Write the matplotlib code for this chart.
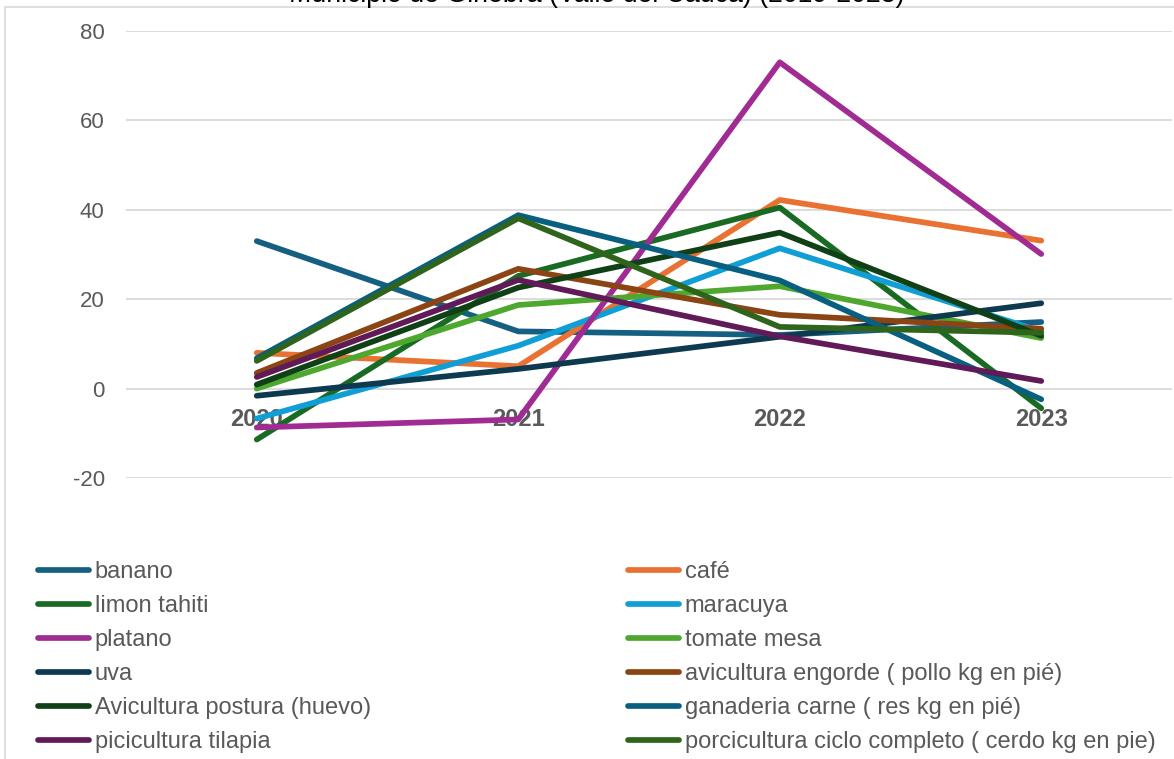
import matplotlib
matplotlib.use("Agg")
import matplotlib.pyplot as plt
from matplotlib.patches import Rectangle

plt.rcParams['font.family'] = ['Liberation Sans', 'DejaVu Sans']

years = ["2020", "2021", "2022", "2023"]
series_names = [
    "banano", "café", "limon tahiti", "maracuya", "platano", "tomate mesa",
    "uva", "avicultura engorde ( pollo kg en pié)", "Avicultura postura (huevo)",
    "ganaderia carne ( res kg en pié)", "picicultura tilapia",
    "porcicultura ciclo completo ( cerdo kg en pie)",
]
banano = [33.0, 12.8, 12.0, 14.9]
cafe = [8.0, 5.0, 42.2, 33.1]
limon_tahiti = [-11.4, 25.2, 40.5, -4.4]
maracuya = [-6.7, 9.6, 31.4, 12.8]
platano = [-8.7, -6.9, 73.0, 30.1]
tomate_mesa = [0.0, 18.7, 22.9, 11.3]
uva = [-1.6, 4.4, 11.6, 19.1]
avicultura_engorde = [3.5, 26.8, 16.5, 13.4]
avicultura_postura = [0.9, 22.6, 34.9, 11.8]
ganaderia_carne = [6.8, 38.8, 24.2, -2.4]
picicultura_tilapia = [2.6, 24.3, 11.7, 1.7]
porcicultura = [6.2, 38.1, 13.8, 12.5]

values = [banano, cafe, limon_tahiti, maracuya, platano, tomate_mesa, uva,
          avicultura_engorde, avicultura_postura, ganaderia_carne,
          picicultura_tilapia, porcicultura]
colors = ["#156082", "#E97132", "#196B24", "#0F9ED5", "#A02B93", "#4EA72E",
          "#0D3A4E", "#8B4413", "#0F4016", "#095F80", "#601A58", "#2F641C"]

W, H = 1174, 759
fig = plt.figure(figsize=(W / 100, H / 100), dpi=100)
fig.patch.set_facecolor("white")

# chart border
fig.patches.append(Rectangle((5 / W, -0.1), 1.2, 1 - 7 / H + 0.1,
                             transform=fig.transFigure, fill=False,
                             edgecolor="#D9D9D9", lw=1.2))

ax = fig.add_axes([126 / W, 1 - 478 / H, (1172 - 126) / W, (478 - 31) / H])
ax.set_facecolor("none")
x = list(range(len(years)))
handles = []
for name, vals, c in zip(series_names, values, colors):
    ln, = ax.plot(x, vals, color=c, lw=4.1, solid_capstyle="round",
                  solid_joinstyle="round", label=name)
    handles.append(ln)

ax.set_xlim(-0.5, 3.5)
ax.set_ylim(-20, 80)
ax.set_yticks([-20, 0, 20, 40, 60, 80])
ax.set_yticklabels(["-20", "0", "20", "40", "60", "80"])
ax.grid(axis="y", color="#D9D9D9", lw=1.3)
ax.set_axisbelow(True)
for s in ax.spines.values():
    s.set_visible(False)
ax.spines["bottom"].set_position(("data", 0))
ax.set_xticks(x)
ax.set_xticklabels(years, fontweight="bold")
ax.tick_params(axis="x", length=0, pad=14.2, labelsize=17, labelcolor="#595959")
ax.tick_params(axis="y", length=0, pad=15.3, labelsize=16, labelcolor="#595959")

fig.text(597 / W, 1 - 1.5 / H, "Municipio de Ginebra (Valle del Cauca) (2019-2023)",
         ha="center", va="baseline", fontsize=19.3, color="#000000")

leg_kw = dict(frameon=False, fontsize=17, labelcolor="#595959",
              handlelength=2.16, handletextpad=0.25, labelspacing=0.51,
              borderpad=0, borderaxespad=0, loc="upper left")
col1 = [handles[i] for i in range(0, 12, 2)]
col2 = [handles[i] for i in range(1, 12, 2)]
fig.legend(col1, [h.get_label() for h in col1],
           bbox_to_anchor=(38 / W, 1 - 561 / H), **leg_kw)
fig.legend(col2, [h.get_label() for h in col2],
           bbox_to_anchor=(628 / W, 1 - 561 / H), **leg_kw)

fig.savefig("out.png", dpi=100, facecolor="white")
